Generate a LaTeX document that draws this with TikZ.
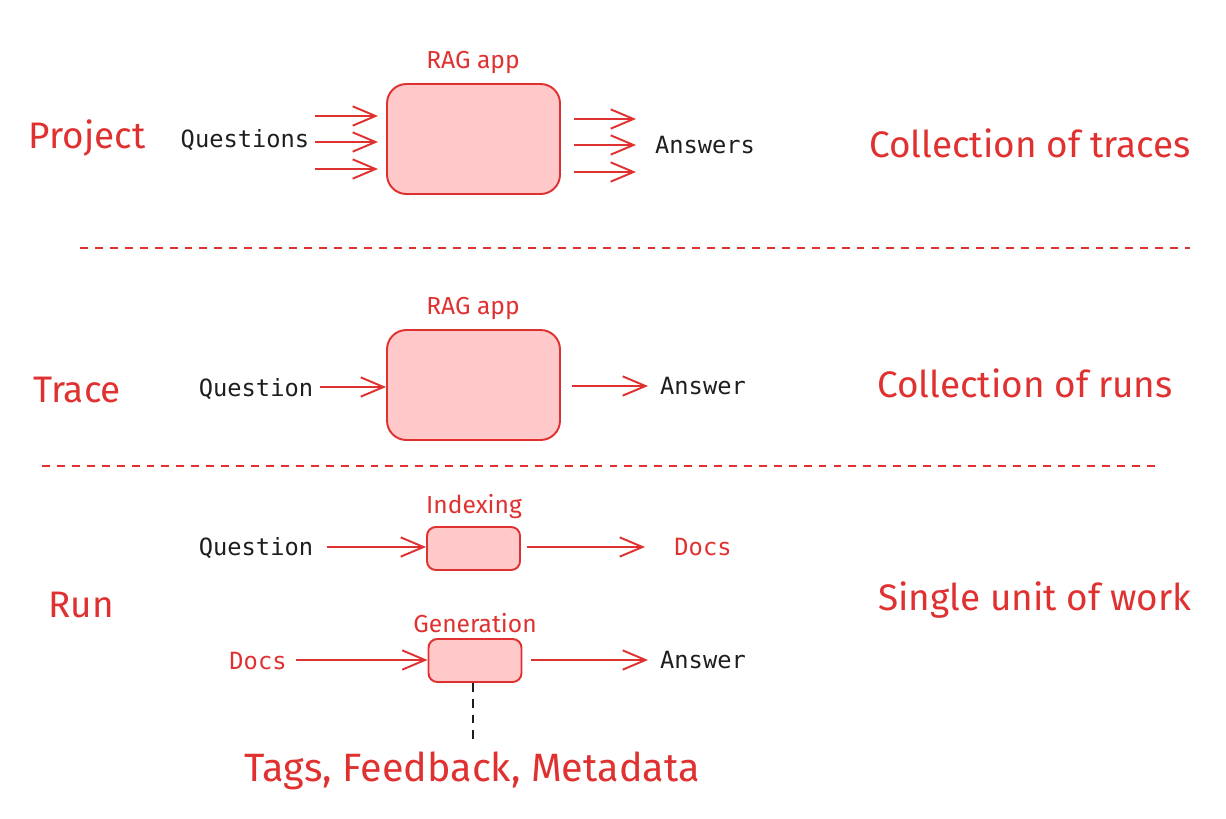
\documentclass[tikz,border=0pt]{standalone}
\usepackage{fontspec}
\setmainfont{Fira Sans}
\setmonofont{DejaVu Sans Mono}
\usepackage{xcolor}
\usetikzlibrary{arrows.meta}
\definecolor{redline}{HTML}{E03131}
\definecolor{redfill}{HTML}{FFC9C9}
\definecolor{ink}{HTML}{1E1E1E}

\begin{document}
\begin{tikzpicture}[x=0.02cm,y=-0.02cm,
	appbox/.style={draw=redline,fill=redfill,line width=1.1pt,rounded corners=11pt,
		minimum width=3.46cm,minimum height=2.2cm,inner sep=0pt},
	stepbox/.style={draw=redline,fill=redfill,line width=1.1pt,rounded corners=5pt,
		minimum width=1.86cm,minimum height=0.86cm,inner sep=0pt},
	flow/.style={draw=redline,line width=1.1pt,
		-{Straight Barb[length=13pt,width=11pt,line width=1.1pt]}},
	hand/.style={text=redline,font=\fontsize{21}{21}\selectfont},
	tag/.style={text=redline,font=\fontsize{14}{14}\selectfont},
	code/.style={text=ink,font=\ttfamily\fontsize{13.5}{13.5}\selectfont},
	redcode/.style={code,text=redline},
	sep/.style={draw=redline,line width=0.8pt,dash pattern=on 4.5pt off 4pt}]

	\useasboundingbox (0,0) rectangle (1226,818);

	% project
	\node[hand] (project) at (87,138) {Project};
	\node[code] (questions) at (245,140) {Questions};
	\node[appbox] (app1) at (473.5,139) {};
	\node[tag] (app1label) at (473,62) {RAG app};
	\node[code] (answers) at (705,145) {Answers};
	\node[hand] (traces) at (1030,143) {Collection of traces};
	\foreach \i/\yl/\yr in {1/116/119,2/142/145,3/169/172} {
		\coordinate (qin\i) at (315,\yl);
		\coordinate (qout\i) at (378,\yl);
		\coordinate (ain\i) at (574,\yr);
		\coordinate (aout\i) at (636,\yr);
		\draw[flow] (qin\i) -- (qout\i);
		\draw[flow] (ain\i) -- (aout\i);
	}

	\coordinate (sepA) at (80,248);
	\coordinate (sepB) at (1190,248);
	\draw[sep] (sepA) -- (sepB);

	% trace
	\node[hand] (trace) at (77,390) {Trace};
	\node[code] (question) at (256,389) {Question};
	\node[appbox] (app2) at (473.5,385) {};
	\node[tag] (app2label) at (473,308) {RAG app};
	\node[code] (answer) at (703,386) {Answer};
	\node[hand] (runs) at (1025,383) {Collection of runs};
	\coordinate (q2) at (320,387);
	\coordinate (a2a) at (572,386);
	\coordinate (a2b) at (648,386);
	\draw[flow] (q2) -- (q2 -| app2.west);
	\draw[flow] (a2a) -- (a2b);

	\coordinate (sepC) at (42,466);
	\coordinate (sepD) at (1157,466);
	\draw[sep] (sepC) -- (sepD);

	% run
	\node[hand] (run) at (81,605) {Run};
	\node[hand] (unit) at (1035,600) {Single unit of work};

	\node[code] (question3) at (256,548) {Question};
	\node[stepbox] (index) at (473.5,548.5) {};
	\node[tag] (indexlabel) at (474,507) {Indexing};
	\node[redcode] (docs1) at (703,547) {Docs};
	\coordinate (q3) at (327,547);
	\coordinate (d3a) at (527,547);
	\coordinate (d3b) at (645,547);
	\draw[flow] (q3) -- (q3 -| index.west);
	\draw[flow] (d3a) -- (d3b);

	\node[redcode] (docs2) at (258,661) {Docs};
	\node[stepbox] (gen) at (475,660.5) {};
	\node[tag] (genlabel) at (475,623) {Generation};
	\node[code] (answer3) at (703,660) {Answer};
	\coordinate (d4) at (296,660);
	\coordinate (a4a) at (531,660);
	\coordinate (a4b) at (648,660);
	\draw[flow] (d4) -- (d4 -| gen.west);
	\draw[flow] (a4a) -- (a4b);

	\node[hand,font=\fontsize{22.5}{22.5}\selectfont] (meta) at (472,771) {Tags, Feedback, Metadata};
	\coordinate (metatop) at (473,740);
	\draw[ink,line width=1pt,dash pattern=on 5pt off 4pt] (gen.south -| metatop) -- (metatop);

\end{tikzpicture}
\end{document}
